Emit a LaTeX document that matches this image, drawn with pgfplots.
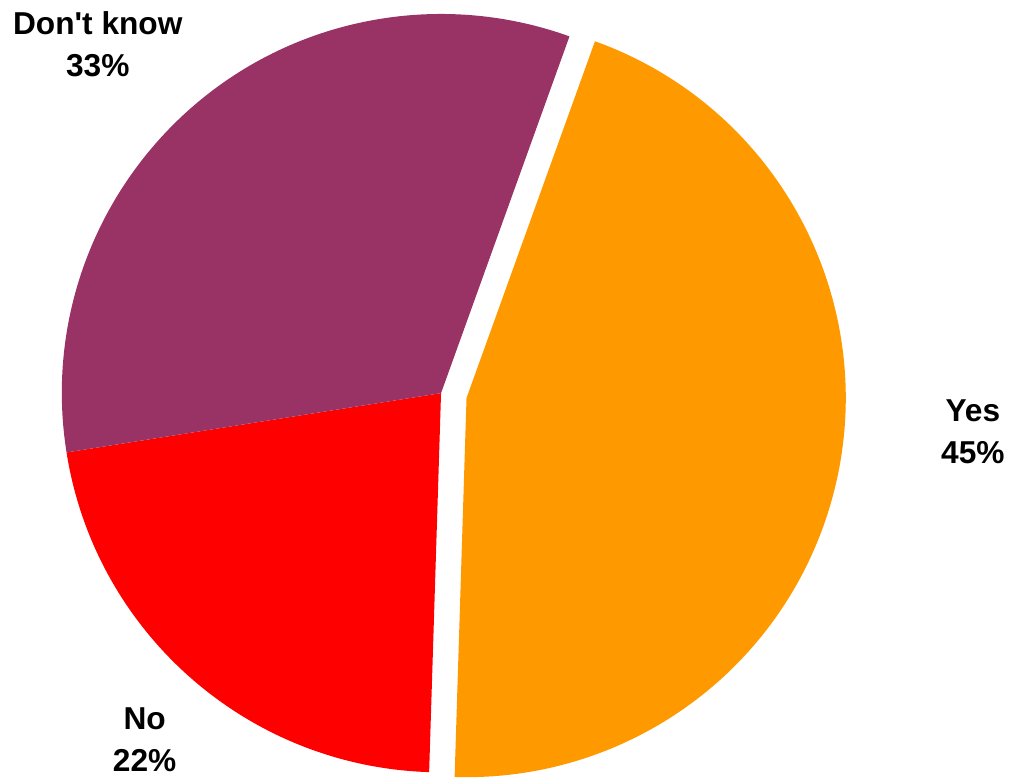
\documentclass[border=0pt]{standalone}
\usepackage{pgfplots}
\usepackage{pgfplotstable}
\pgfplotsset{compat=1.18}
\usepackage{fontspec}
\setmainfont{Liberation Sans}[Ligatures=TeXOff]
\definecolor{cyes}{HTML}{FF9900}
\definecolor{cno}{HTML}{FF0000}
\definecolor{cdk}{HTML}{993366}
\pgfplotstableread{
label value
Yes 45
No 22
Dontknow 33
}\piedata
\pgfplotstablegetelem{0}{value}\of\piedata \let\vyes\pgfplotsretval
\pgfplotstablegetelem{1}{value}\of\piedata \let\vno\pgfplotsretval
\pgfplotstablegetelem{2}{value}\of\piedata \let\vdk\pgfplotsretval
% angles (clockwise from start)
\pgfmathsetmacro\aA{70.2}
\pgfmathsetmacro\aB{\aA-3.6*\vyes}
\pgfmathsetmacro\aC{\aB-3.6*\vno}
\pgfmathsetmacro\aD{\aC-3.6*\vdk}
\pgfmathsetmacro\amid{(\aA+\aB)/2}
% centre in pixel units (y up), radius in px
\pgfmathsetmacro\cx{442}
\pgfmathsetmacro\cy{384}
\pgfmathsetmacro\R{380}
\pgfmathsetmacro\ex{\cx+26*cos(\amid)}
\pgfmathsetmacro\ey{\cy+26*sin(\amid)}
\pgfmathsetmacro\Rpt{\R*0.75}
\begin{document}
\begin{tikzpicture}
\begin{axis}[
  scale only axis, width=756.75pt, height=583.5pt,
  xmin=0, xmax=1009, ymin=0, ymax=778,
  hide axis, clip=false,
]
\path (axis cs:0,0) rectangle (axis cs:1009,778);
\fill[cyes] (axis cs:\ex,\ey) -- (axis cs:{\ex+\R*cos(\aA)},{\ey+\R*sin(\aA)})
  arc[start angle=\aA, end angle=\aB, radius=\Rpt pt] -- cycle;
\fill[cno] (axis cs:\cx,\cy) -- (axis cs:{\cx+\R*cos(\aB)},{\cy+\R*sin(\aB)})
  arc[start angle=\aB, end angle=\aC, radius=\Rpt pt] -- cycle;
\fill[cdk] (axis cs:\cx,\cy) -- (axis cs:{\cx+\R*cos(\aC)},{\cy+\R*sin(\aC)})
  arc[start angle=\aC, end angle=\aD, radius=\Rpt pt] -- cycle;
\node[align=center, font=\fontsize{23.8}{31.5}\selectfont\bfseries] at (axis cs:98,734) {Don't know\\33\%};
\node[align=center, font=\fontsize{23.8}{31.5}\selectfont\bfseries] at (axis cs:975,345) {Yes\\45\%};
\node[align=center, font=\fontsize{23.8}{31.5}\selectfont\bfseries] at (axis cs:145,37) {No\\22\%};
\end{axis}
\end{tikzpicture}
\end{document}
